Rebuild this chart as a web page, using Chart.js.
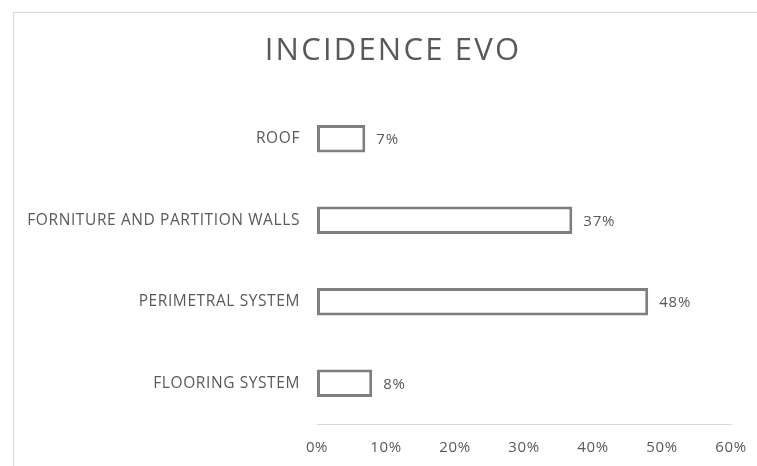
<!DOCTYPE html>
<html>
<head>
<meta charset="utf-8">
<script src="https://cdn.jsdelivr.net/npm/chart.js@4"></script>
<style>
  html, body { margin: 0; padding: 0; background: #fff; overflow: hidden; }
  #wrap { position: relative; width: 757px; height: 466px; }
  #frame {
    position: absolute; left: 13px; top: 12px; width: 800px; height: 500px;
    border: 1px solid #d9d9d9; box-sizing: border-box;
  }
  canvas { position: absolute; left: 0; top: 0; }
</style>
</head>
<body>
<div id="wrap">
  <div id="frame"></div>
  <canvas id="chart" width="757" height="466"></canvas>
</div>
<script>
const categories = ['ROOF', 'FORNITURE AND PARTITION WALLS', 'PERIMETRAL SYSTEM', 'FLOORING SYSTEM'];
const incidence = [7, 37, 48, 8];
const xTicks = [0, 10, 20, 30, 40, 50, 60];
const chartTitle = 'INCIDENCE EVO';

const textColor = '#595959';
const fontFamily = '"Open Sans", "Liberation Sans", sans-serif';

// slightly wider tracking for all axis text
const tracking = {
  id: 'tracking',
  beforeDraw(chart) {
    chart.ctx.letterSpacing = '0.6px';
  }
};

// title drawn by hand so it can sit a little right of centre
const titleText = {
  id: 'titleText',
  afterDraw(chart) {
    const ctx = chart.ctx;
    ctx.save();
    ctx.letterSpacing = '2.2px';
    ctx.fillStyle = textColor;
    ctx.font = '31px ' + fontFamily;
    ctx.textAlign = 'center';
    ctx.textBaseline = 'middle';
    ctx.fillText(chartTitle, 393, 51);
    ctx.restore();
  }
};

// percentage next to the end of each bar
const valueLabels = {
  id: 'valueLabels',
  afterDatasetsDraw(chart) {
    const ctx = chart.ctx;
    const meta = chart.getDatasetMeta(0);
    ctx.save();
    ctx.letterSpacing = '0.8px';
    ctx.fillStyle = textColor;
    ctx.font = '15px ' + fontFamily;
    ctx.textAlign = 'left';
    ctx.textBaseline = 'middle';
    meta.data.forEach((bar, i) => {
      ctx.fillText(incidence[i] + '%', bar.x + 11, bar.y + 1);
    });
    ctx.restore();
  }
};

new Chart(document.getElementById('chart'), {
  type: 'bar',
  data: {
    labels: categories,
    datasets: [{
      data: incidence,
      backgroundColor: '#ffffff',
      borderColor: '#7f7f7f',
      borderWidth: 3,
      borderSkipped: false,
      barPercentage: 0.68,
      categoryPercentage: 0.5
    }]
  },
  options: {
    indexAxis: 'y',
    responsive: false,
    animation: false,
    layout: { padding: { left: 0, right: 26, top: 98, bottom: 0 } },
    plugins: {
      legend: { display: false },
      tooltip: { enabled: false },
      title: { display: false }
    },
    scales: {
      x: {
        min: 0,
        max: 60,
        afterBuildTicks(scale) {
          scale.ticks = xTicks.map(v => ({ value: v }));
        },
        afterFit(scale) {
          scale.height = 42;
          scale.paddingLeft = 0;
          scale.paddingRight = 0;
        },
        grid: { display: false, drawTicks: false },
        border: { display: true, color: '#d9d9d9', width: 1 },
        ticks: {
          color: textColor,
          padding: 15,
          font: { family: fontFamily, size: 15 },
          callback: v => v + '%'
        }
      },
      y: {
        afterFit(scale) { scale.width = 317; },
        grid: { display: false, drawTicks: false },
        border: { display: false },
        ticks: {
          color: textColor,
          padding: 17,
          font: { family: fontFamily, size: 15.5 }
        }
      }
    }
  },
  plugins: [tracking, titleText, valueLabels]
});
</script>
</body>
</html>
